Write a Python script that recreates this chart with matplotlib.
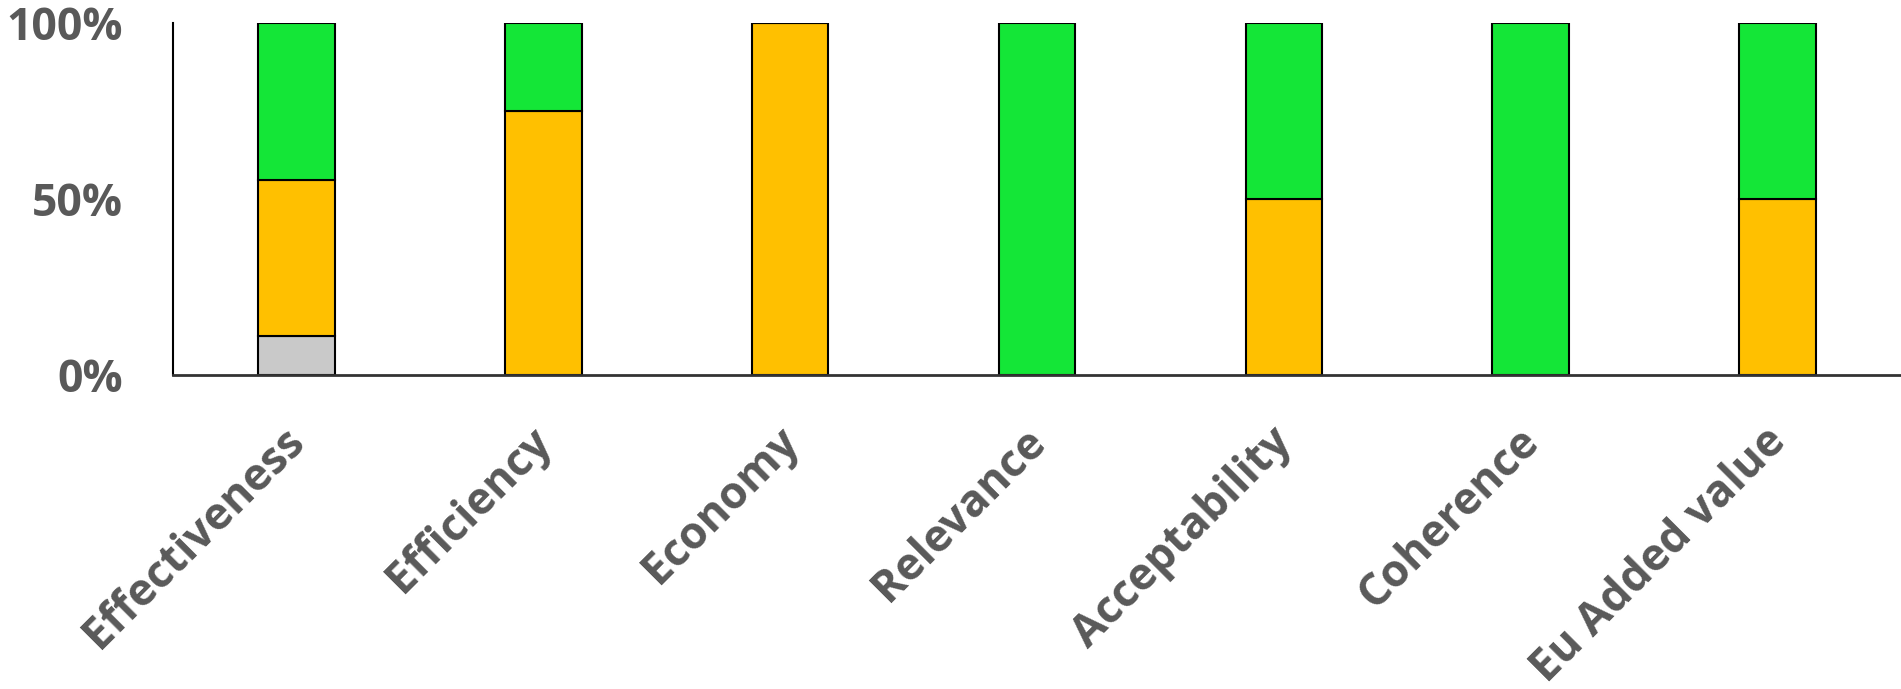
import matplotlib
matplotlib.use("Agg")
import matplotlib.pyplot as plt
import matplotlib.transforms as mtransforms
import numpy as np

categories = ["Effectiveness", "Efficiency", "Economy", "Relevance",
              "Acceptability", "Coherence", "Eu Added value"]
grey_vals = [11.1, 0, 0, 0, 0, 0, 0]
orange_vals = [44.4, 75, 100, 0, 50, 0, 50]
green_vals = [44.5, 25, 0, 100, 50, 100, 50]

plt.rcParams['font.family'] = ['Open Sans', 'DejaVu Sans']

fig = plt.figure(figsize=(19.01, 6.89), dpi=100)
ax = fig.add_axes([0.091, 0.456, 0.909, 0.5106])

x = np.arange(len(categories))
w = 0.31
edge = dict(edgecolor="black", linewidth=1.5)
ax.bar(x, grey_vals, w, color="#C9C9C9", **edge)
ax.bar(x, orange_vals, w, bottom=grey_vals, color="#FFC000", **edge)
bottom2 = np.array(grey_vals) + np.array(orange_vals)
ax.bar(x, green_vals, w, bottom=bottom2, color="#14E637", **edge)

ax.set_xlim(-0.5, len(categories) - 0.5)
ax.set_ylim(0, 100)
ax.set_yticks([0, 50, 100])
ax.set_yticklabels(["0%", "50%", "100%"])
ax.set_xticks(x)
ax.set_xticklabels(categories, rotation=45, ha="right", rotation_mode="anchor")

for s in ["top", "right"]:
    ax.spines[s].set_visible(False)
ax.spines["left"].set_linewidth(1.5)
ax.spines["bottom"].set_linewidth(2)
ax.spines["bottom"].set_color("#333333")
ax.tick_params(axis="both", length=0, labelsize=32, labelcolor="#595959")
ax.tick_params(axis="y", pad=36)
ax.tick_params(axis="x", pad=32)
shift = mtransforms.ScaledTranslation(-0.14, 0, fig.dpi_scale_trans)
for lab in ax.get_xticklabels():
    lab.set_fontweight("bold")
    lab.set_transform(lab.get_transform() + shift)
for lab in ax.get_yticklabels():
    lab.set_fontweight("bold")

fig.savefig("out.png", dpi=100)
